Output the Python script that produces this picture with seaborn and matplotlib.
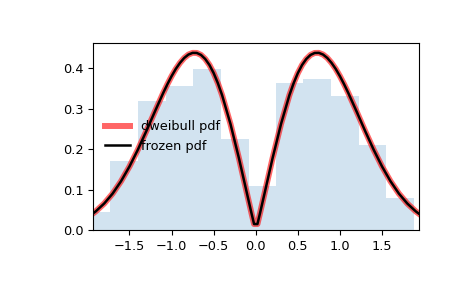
import matplotlib
matplotlib.use("Agg")
import matplotlib.pyplot as plt
import seaborn as sns
import numpy as np

# histogram (density)
bin_edges = [-2.062, -1.732, -1.401, -1.070, -0.740, -0.409, -0.078,
             0.236, 0.566, 0.897, 1.228, 1.552, 1.882]
bin_heights = [0.045, 0.171, 0.319, 0.356, 0.398, 0.225, 0.109,
               0.363, 0.374, 0.333, 0.210, 0.081]

# pdf curve points
curve_x = [-1.933, -1.9, -1.8, -1.7, -1.6, -1.5, -1.4, -1.3, -1.2, -1.1, -1.05, -1.0,
           -0.95, -0.9, -0.85, -0.8, -0.75, -0.7, -0.65, -0.6, -0.55, -0.5, -0.45,
           -0.4, -0.3, -0.2, -0.1, -0.05, -0.02,
           0.02, 0.05, 0.1, 0.2, 0.3, 0.4, 0.45, 0.5, 0.55, 0.6, 0.65, 0.7, 0.75,
           0.8, 0.85, 0.9, 0.95, 1.0, 1.05,
           1.1, 1.2, 1.3, 1.4, 1.5, 1.6, 1.7, 1.8, 1.9, 1.933]
curve_y = [0.0419, 0.0471, 0.0664, 0.0909, 0.1215, 0.1578, 0.1994, 0.2451, 0.2926,
           0.3390, 0.3607, 0.3808, 0.3987, 0.4137, 0.4258, 0.4342, 0.4384, 0.4382,
           0.4333, 0.4233, 0.4085, 0.3885, 0.3636, 0.3342, 0.2627,
           0.1785, 0.0873, 0.0419, 0.0157,
           0.0157, 0.0419, 0.0873, 0.1785, 0.2627, 0.3342, 0.3636, 0.3885, 0.4085,
           0.4233, 0.4333, 0.4382, 0.4384, 0.4342, 0.4258, 0.4137, 0.3987, 0.3808,
           0.3607, 0.3390, 0.2926, 0.2451, 0.1994, 0.1578, 0.1215,
           0.0909, 0.0664, 0.0471, 0.0419]

labels = ["dweibull pdf", "frozen pdf"]

plt.rcParams["font.size"] = 9.3
fig = plt.figure(figsize=(4.65, 2.88), dpi=100)
ax = fig.add_axes([0.2, 0.2, 0.7, 0.651])

centers = [(bin_edges[i] + bin_edges[i + 1]) / 2 for i in range(len(bin_heights))]
sns.histplot(x=centers, weights=bin_heights, bins=bin_edges, stat="count",
             element="step", fill=True, color="C0", alpha=0.2, linewidth=0, ax=ax)

sns.lineplot(x=curve_x, y=curve_y, color="r", lw=4.3, alpha=0.6,
             label=labels[0], ax=ax, sort=False)
sns.lineplot(x=curve_x, y=curve_y, color="k", lw=1.8,
             label=labels[1], ax=ax, sort=False)

ax.set_xlim(curve_x[0], curve_x[-1])
ax.set_ylim(0, 0.463)
ax.set_xticks([-1.5, -1.0, -0.5, 0.0, 0.5, 1.0, 1.5])
ax.set_yticks([0.0, 0.1, 0.2, 0.3, 0.4])
ax.set_xlabel("")
ax.set_ylabel("")
ax.legend(loc="center left", frameon=False)

fig.savefig("out.png", dpi=100)
